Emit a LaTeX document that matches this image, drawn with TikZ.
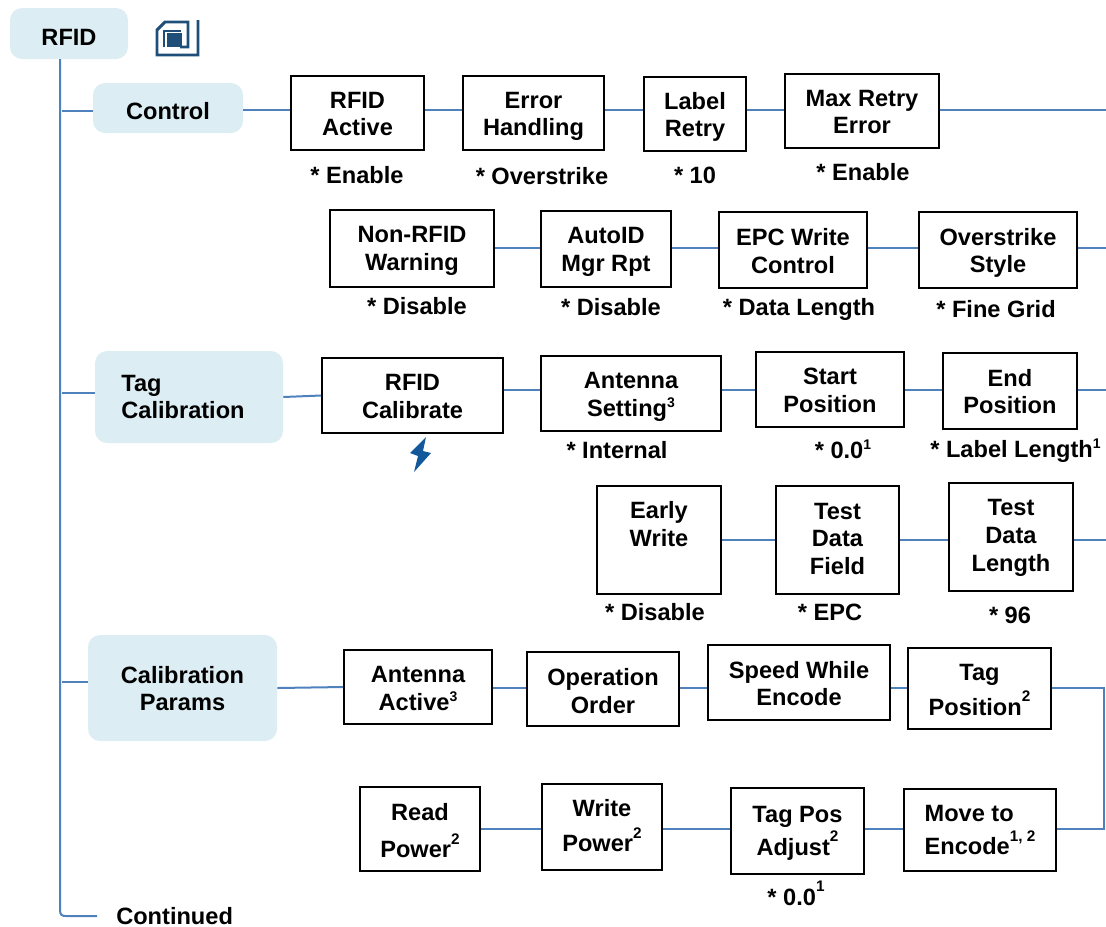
\documentclass[tikz,border=0pt]{standalone}
\usepackage{fontspec}
\setmainfont{Liberation Sans}
\definecolor{menufill}{HTML}{DCEDF3}
\definecolor{linkblue}{HTML}{4F81BD}
\definecolor{icondark}{HTML}{1F4E79}
\definecolor{boltblue}{HTML}{12589A}
\newcommand{\supnum}[1]{\raisebox{1.1ex}{\fontsize{11.5}{12}\selectfont #1}}
\newcommand{\supnear}[1]{\raisebox{0.7ex}{\fontsize{10.5}{12}\selectfont #1}}
\newcommand{\nudge}[2]{\vbox{\hbox{\begin{tabular}{@{}c@{}}#2\end{tabular}}\vskip -#1 \vskip -#1}}
\tikzset{
  boxsize/.style 2 args={minimum width=#1*0.75pt, minimum height=#2*0.75pt},
  menunode/.style={fill=menufill, rounded corners=9pt, inner sep=0pt, font=\fontsize{17.7}{20.7}\bfseries\selectfont},
  boxnode/.style={draw=black, line width=1.5pt, fill=white, inner sep=0pt, font=\fontsize{17.7}{20.7}\bfseries\selectfont},
  valnode/.style={inner sep=0pt, font=\fontsize{17.7}{20.7}\bfseries\selectfont},
  linkline/.style={draw=linkblue, line width=1.5pt}
}
\begin{document}
\begin{tikzpicture}[x=0.75pt,y=-0.75pt]
\useasboundingbox (0,0) rectangle (1106,926);
\node[menunode, boxsize={118}{51}] (rfid) at (69,33.5) {\nudge{4.5pt}{RFID}};
\node[menunode, boxsize={150}{50}] (control) at (168,108) {\nudge{4.5pt}{Control}};
\node[menunode, boxsize={188}{92}, align=left] (tagcal) at (189,397) {Tag\\Calibration\hspace{9pt}\mbox{}};
\node[menunode, boxsize={189}{106}] (calparams) at (182.5,688) {\nudge{2.6pt}{Calibration\\Params}};
% first row
\node[boxnode, boxsize={133}{74}] (rfidactive) at (357.5,113) {\nudge{2.6pt}{RFID\\Active}};
\node[boxnode, boxsize={141}{74}] (errorhandling) at (533.5,113) {\nudge{2.6pt}{Error\\Handling}};
\node[boxnode, boxsize={102}{74}] (labelretry) at (695,114) {\nudge{2.6pt}{Label\\Retry}};
\node[boxnode, boxsize={154}{74}] (maxretry) at (862,111) {\nudge{2.6pt}{Max Retry\\Error}};
\node[boxnode, boxsize={164}{77}] (nonrfid) at (412,248.5) {\nudge{2pt}{Non-RFID\\Warning}};
\node[boxnode, boxsize={130}{76}] (autoid) at (606,249) {\nudge{2.25pt}{AutoID\\Mgr Rpt}};
\node[boxnode, boxsize={148}{76}] (epcwrite) at (793,250) {\nudge{3pt}{EPC Write\\Control}};
\node[boxnode, boxsize={158}{76}] (overstyle) at (998,250) {\nudge{2.6pt}{Overstrike\\Style}};
% calibration
\node[boxnode, boxsize={181}{75}] (rfidcal) at (412.5,395.5) {\nudge{2.6pt}{RFID\\Calibrate}};
\node[boxnode, boxsize={180}{75}] (antset) at (631,393.5) {\nudge{2.6pt}{Antenna\\Setting\supnear{3}}};
\node[boxnode, boxsize={148}{75}] (startpos) at (830,389.5) {\nudge{2.6pt}{Start\\Position}};
\node[boxnode, boxsize={134}{76}] (endpos) at (1010,391) {\nudge{2.6pt}{End\\Position}};
\node[boxnode, boxsize={124}{108}] (earlywrite) at (659,540) {\nudge{0.35pt}{Early\\Write\\~}};
\node[boxnode, boxsize={123}{108}] (testfield) at (837.5,540) {\nudge{0.8pt}{Test\\Data\\Field}};
\node[boxnode, boxsize={124}{108}] (testlen) at (1011,537) {\nudge{0.75pt}{Test\\Data\\Length}};
% params
\node[boxnode, boxsize={148}{74}] (antactive) at (418,687) {\nudge{3pt}{Antenna\\Active\supnear{3}}};
\node[boxnode, boxsize={152}{74}] (oporder) at (603,689) {\nudge{3.75pt}{Operation\\Order}};
\node[boxnode, boxsize={182}{75}] (speedenc) at (799,682.5) {\nudge{3pt}{Speed While\\Encode}};
\node[boxnode, boxsize={143}{81}] (tagpos) at (979.5,688.5) {\nudge{3pt}{Tag\\[1.5pt]Position\supnum{2}}};
\node[boxnode, boxsize={120}{84}] (readpow) at (420,829) {\nudge{3.35pt}{Read\\[3.75pt]Power\supnum{2}}};
\node[boxnode, boxsize={120}{86}] (writepow) at (602,827) {\nudge{1.15pt}{Write\\[2.25pt]Power\supnum{2}}};
\node[boxnode, boxsize={133}{86}] (tagadj) at (797.5,831) {\nudge{1.85pt}{Tag Pos\\Adjust\supnum{2}}};
\node[boxnode, boxsize={152}{82}, align=left] (moveenc) at (980,830) {Move to\\[4.5pt]Encode\supnum{1, 2}};
% values
\node[valnode] (valactive) at (357,175) {* Enable};
\node[valnode] (valerror) at (542,176) {* Overstrike};
\node[valnode] (valretry) at (695,175) {* 10};
\node[valnode] (valmax) at (863,172) {* Enable};
\node[valnode] (valnon) at (417,306) {* Disable};
\node[valnode] (valauto) at (611,307) {* Disable};
\node[valnode] (valepc) at (799,309) {* Data Length};
\node[valnode] (valover) at (996,309) {* Fine Grid};
\node[valnode] (valant) at (617,450) {* Internal};
\node[valnode] (valstart) at (843,449) {* 0.0\supnear{1}};
\node[valnode] (valend) at (1015.5,451) {* Label Length\supnear{1}};
\node[valnode] (valearly) at (655,612) {* Disable};
\node[valnode] (valfield) at (830,612) {* EPC};
\node[valnode] (vallen) at (1010,615) {* 96};
\node[valnode] (valadj) at (796,893) {* 0.0\supnum{1}};
\node[valnode, anchor=west] (continued) at (116,916) {Continued};
% free ends
\coordinate (trunkend) at (97,916);
\coordinate (rowa) at (1106,110);
\coordinate (rowb) at (1106,248);
\coordinate (rowc) at (1106,390);
\coordinate (rowd) at (1106,540);
\coordinate (rowe) at (1104,688);
\coordinate (rowf) at (1104,829);
\coordinate (brancha) at (62,111);
\coordinate (branchb) at (62,393);
\coordinate (branchc) at (62,682);
% links
\draw[linkline] (60,59) -- (60,910) .. controls (60,915) and (62,916) .. (66,916) -- (trunkend);
\draw[linkline] (brancha) -- (control.west |- brancha);
\draw[linkline] (branchb) -- (tagcal.west |- branchb);
\draw[linkline] (branchc) -- (calparams.west |- branchc);
\draw[linkline] (control.east |- rowa) -- (rfidactive.west |- rowa);
\draw[linkline] (rfidactive.east |- rowa) -- (errorhandling.west |- rowa);
\draw[linkline] (errorhandling.east |- rowa) -- (labelretry.west |- rowa);
\draw[linkline] (labelretry.east |- rowa) -- (maxretry.west |- rowa);
\draw[linkline] (maxretry.east |- rowa) -- (rowa);
\draw[linkline] (nonrfid.east |- rowb) -- (autoid.west |- rowb);
\draw[linkline] (autoid.east |- rowb) -- (epcwrite.west |- rowb);
\draw[linkline] (epcwrite.east |- rowb) -- (overstyle.west |- rowb);
\draw[linkline] (overstyle.east |- rowb) -- (rowb);
\draw[linkline] (tagcal.east) -- (rfidcal.west);
\draw[linkline] (rfidcal.east |- rowc) -- (antset.west |- rowc);
\draw[linkline] (antset.east |- rowc) -- (startpos.west |- rowc);
\draw[linkline] (startpos.east |- rowc) -- (endpos.west |- rowc);
\draw[linkline] (endpos.east |- rowc) -- (rowc);
\draw[linkline] (earlywrite.east |- rowd) -- (testfield.west |- rowd);
\draw[linkline] (testfield.east |- rowd) -- (testlen.west |- rowd);
\draw[linkline] (testlen.east |- rowd) -- (rowd);
\draw[linkline] (calparams.east) -- (antactive.west);
\draw[linkline] (antactive.east |- rowe) -- (oporder.west |- rowe);
\draw[linkline] (oporder.east |- rowe) -- (speedenc.west |- rowe);
\draw[linkline] (speedenc.east |- rowe) -- (tagpos.west |- rowe);
\draw[linkline] (tagpos.east |- rowe) -- (rowe) -- (rowf) -- (moveenc.east |- rowf);
\draw[linkline] (moveenc.west |- rowf) -- (tagadj.east |- rowf);
\draw[linkline] (tagadj.west |- rowf) -- (writepow.east |- rowf);
\draw[linkline] (writepow.west |- rowf) -- (readpow.east |- rowf);
% icon and bolt
\draw[icondark, line width=2.2pt] (198,20) -- (198,55) -- (157,55) -- (157,30) -- (165,22) -- (188,22) -- (188,47) -- (180,47);
\draw[icondark, line width=1.5pt] (164,47) -- (164,31) -- (181,31);
\fill[icondark] (167,33) rectangle (182,47);
\fill[boltblue] (426,437) -- (410,453) -- (418,456) -- (414,472) -- (431,453) -- (423,451) -- cycle;
\end{tikzpicture}
\end{document}
